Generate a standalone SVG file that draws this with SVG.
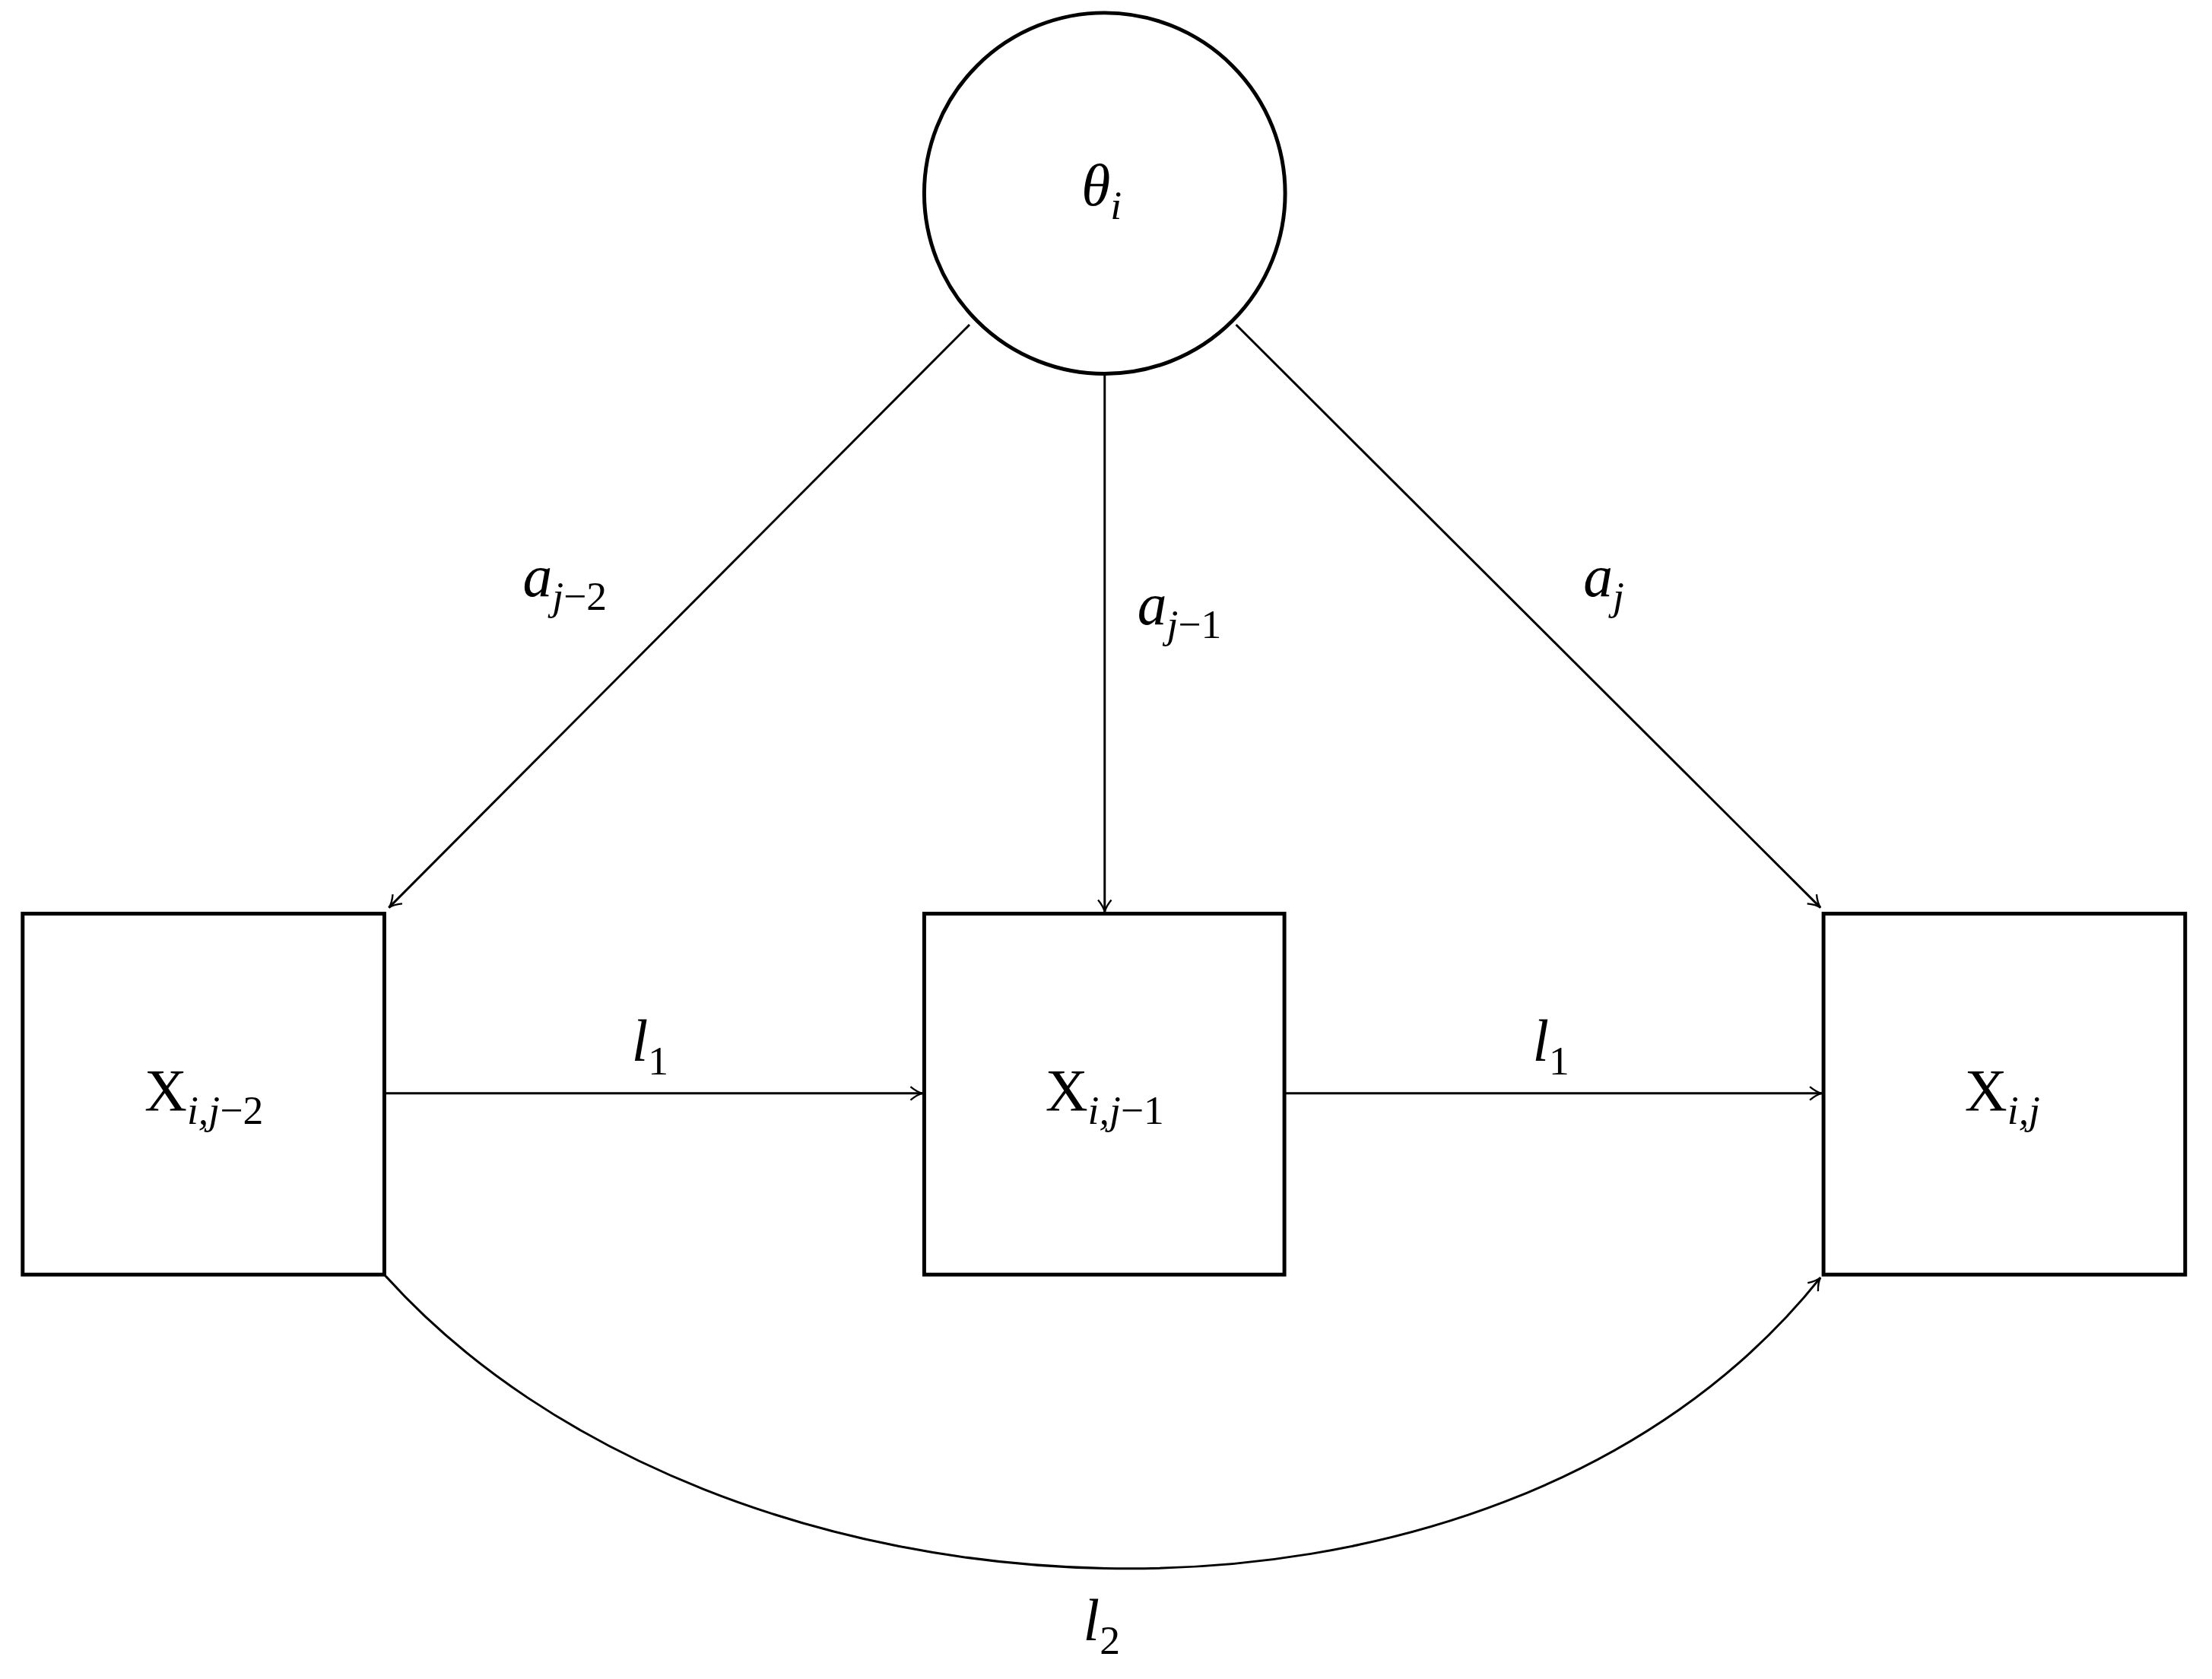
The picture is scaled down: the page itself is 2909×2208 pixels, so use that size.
<svg xmlns="http://www.w3.org/2000/svg" width="2909" height="2208" viewBox="0 0 2909 2208">
<style>
.n{fill:#fff;stroke:#000;stroke-width:5}
.c{fill:none;stroke:#000;stroke-width:3;marker-end:url(#a)}
text{font-family:"Liberation Serif",serif;font-size:78px;font-style:italic;text-anchor:middle}
.r{font-style:normal}
.s{font-size:54px}
</style>
<defs><marker id="a" viewBox="0 0 12 12" refX="11" refY="6" markerWidth="8" markerHeight="8" markerUnits="userSpaceOnUse" orient="auto" style="overflow:visible"><path d="M0,0 Q6,5 11,6 Q6,7 0,12" fill="none" stroke="#000" stroke-width="1.6" transform="scale(2.2) translate(-6,-3.3)"/></marker></defs>
<rect width="2909" height="2208" fill="#fff"/>
<g transform="scale(0.993)">
<g id="connectors">
<line class="c" x1="1284" y1="430" x2="515" y2="1202"/>
<line class="c" x1="1463" y1="496" x2="1463" y2="1208"/>
<line class="c" x1="1637" y1="430" x2="2411" y2="1202"/>
<line class="c" x1="509" y1="1448" x2="1222" y2="1448"/>
<line class="c" x1="1701" y1="1448" x2="2413" y2="1448"/>
<path class="c" d="M509,1688 C950,2180 1980,2232 2411,1692"/>
<text x="748" y="790">a<tspan class="s" dy="18">j<tspan class="r">−2</tspan></tspan></text>
<text x="1562" y="827">a<tspan class="s" dy="18">j<tspan class="r">−1</tspan></tspan></text>
<text x="2124" y="790">a<tspan class="s" dy="18">j</tspan></text>
<text x="861" y="1405">l<tspan class="s r" dy="18">1</tspan></text>
<text x="2054" y="1405">l<tspan class="s r" dy="18">1</tspan></text>
<text x="1459" y="2172">l<tspan class="s r" dy="18">2</tspan></text>
</g>
<g id="theta"><circle class="n" cx="1463" cy="256" r="239"/><text x="1459" y="272">θ<tspan class="s" dy="18">i</tspan></text></g>
<g id="x1"><rect class="n" x="30" y="1210" width="479" height="478"/><text class="r" x="270" y="1470">X<tspan class="s" dy="18" style="font-style:italic">i,j<tspan class="r">−2</tspan></tspan></text></g>
<g id="x2"><rect class="n" x="1224" y="1210" width="477" height="478"/><text class="r" x="1463" y="1470">X<tspan class="s" dy="18" style="font-style:italic">i,j<tspan class="r">−1</tspan></tspan></text></g>
<g id="x3"><rect class="n" x="2415" y="1210" width="479" height="478"/><text class="r" x="2652" y="1470">X<tspan class="s" dy="18" style="font-style:italic">i,j</tspan></text></g>
</g>
</svg>
